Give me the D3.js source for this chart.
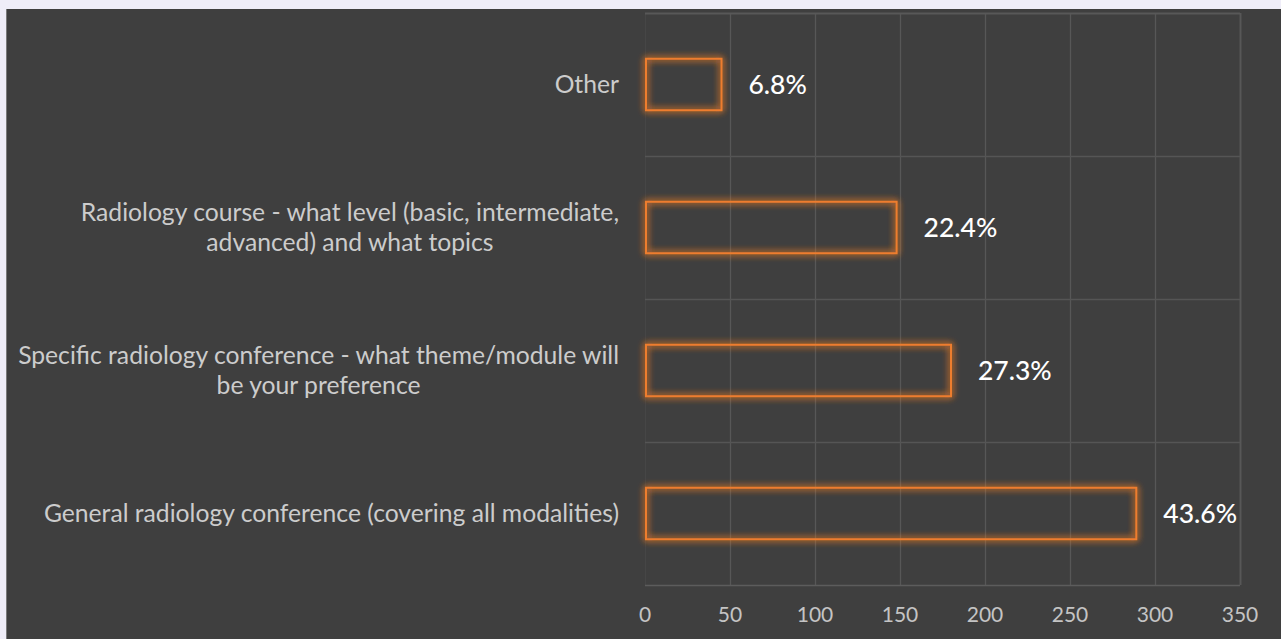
<!DOCTYPE html>
<html><head><meta charset="utf-8">
<script src="https://cdn.jsdelivr.net/npm/d3@7"></script>
<style>
html,body{margin:0;padding:0;background:#efedf8;}
svg{display:block;}
</style></head>
<body>
<svg id="chart" width="1281" height="639"></svg>
<script>
const categories = [
  "Other",
  "Radiology course - what level (basic, intermediate,|advanced) and what topics",
  "Specific radiology conference - what theme/module will|be your preference",
  "General radiology conference (covering all modalities)"
];
const values = [45, 148, 180, 289];
const percentLabels = ["6.8%", "22.4%", "27.3%", "43.6%"];
const xTicks = [0, 50, 100, 150, 200, 250, 300, 350];

const svg = d3.select("#chart");
const W = 1281, H = 639;
const margin = {left: 645, right: 41, top: 13, bottom: 54};
const plotW = W - margin.left - margin.right;
const plotH = H - margin.top - margin.bottom;
const FONT = "Lato, 'Open Sans', sans-serif";

// panel
svg.append("rect").attr("x", 6).attr("y", 9).attr("width", W - 6).attr("height", H - 9).attr("fill", "#3f3f3f");
svg.append("line").attr("x1", 6.5).attr("x2", 6.5).attr("y1", 9).attr("y2", H).attr("stroke", "#7a7a7a").attr("stroke-width", 1);

const defs = svg.append("defs");
const f = defs.append("filter").attr("id", "glow").attr("x", "-20%").attr("y", "-50%").attr("width", "140%").attr("height", "200%");
f.append("feGaussianBlur").attr("in", "SourceGraphic").attr("stdDeviation", 3.5).attr("result", "b");
const m = f.append("feMerge");
m.append("feMergeNode").attr("in", "b");
m.append("feMergeNode").attr("in", "b");
m.append("feMergeNode").attr("in", "SourceGraphic");

const x = d3.scaleLinear().domain([0, 350]).range([0, plotW]);
const y = d3.scaleBand().domain(d3.range(categories.length)).range([0, plotH]).paddingInner(0.64).paddingOuter(0.32);
const yGrid = d3.scaleBand().domain(d3.range(categories.length)).range([0, plotH]);

const g = svg.append("g").attr("transform", `translate(${margin.left},${margin.top})`);

// vertical gridlines
g.selectAll(".vg").data(xTicks).enter().append("line")
  .attr("x1", d => Math.round(x(d)) + 0.5).attr("x2", d => Math.round(x(d)) + 0.5)
  .attr("y1", 0).attr("y2", plotH)
  .attr("stroke", d => d === 0 ? "#464646" : "#575757").attr("stroke-width", d => d === 350 ? 2 : 1.3);
// horizontal gridlines
g.selectAll(".hg").data(d3.range(categories.length + 1)).enter().append("line")
  .attr("x1", 0).attr("x2", plotW)
  .attr("y1", d => Math.round(d * yGrid.step()) + 0.5).attr("y2", d => Math.round(d * yGrid.step()) + 0.5)
  .attr("stroke", d => d === categories.length ? "#5c5c5c" : (d === 0 ? "#585858" : "#555555")).attr("stroke-width", d => d === 0 ? 2 : 1.3);

// bars
g.selectAll(".bar").data(values).enter().append("rect")
  .attr("x", 1).attr("y", (d, i) => y(i))
  .attr("width", d => x(d) - 1).attr("height", y.bandwidth())
  .attr("fill", "none").attr("stroke", "#ee7d2e").attr("stroke-width", 2)
  .attr("filter", "url(#glow)");

// value labels
g.selectAll(".vl").data(values).enter().append("text")
  .attr("x", d => x(d) + 27).attr("y", (d, i) => y(i) + y.bandwidth() / 2)
  .attr("dy", "0.35em").attr("fill", "#ffffff")
  .style("font-family", FONT).style("font-size", "26.5px").style("font-weight", 500)
  .text((d, i) => percentLabels[i]);

// category labels
const catG = svg.append("g");
categories.forEach((c, i) => {
  const lines = c.split("|");
  const cy = margin.top + y(i) + y.bandwidth() / 2;
  const lh = 30;
  const t = catG.append("text")
    .attr("fill", "#cccccc")
    .style("font-family", FONT).style("font-size", "24.7px")
    .attr("text-anchor", "middle");
  lines.forEach((ln, k) => {
    t.append("tspan").attr("x", 0).attr("y", cy + (k - (lines.length - 1) / 2) * lh).attr("dy", "0.35em").text(ln);
  });
  const bb = t.node().getBBox();
  t.attr("transform", `translate(${619 - bb.width / 2},0)`);
});

// x axis tick labels
g.selectAll(".xt").data(xTicks).enter().append("text")
  .attr("x", d => x(d)).attr("y", plotH + 30).attr("dy", "0.35em")
  .attr("text-anchor", "middle").attr("fill", "#c4c4c4")
  .style("font-family", FONT).style("font-size", "21px")
  .text(d => d);
</script>
</body></html>
